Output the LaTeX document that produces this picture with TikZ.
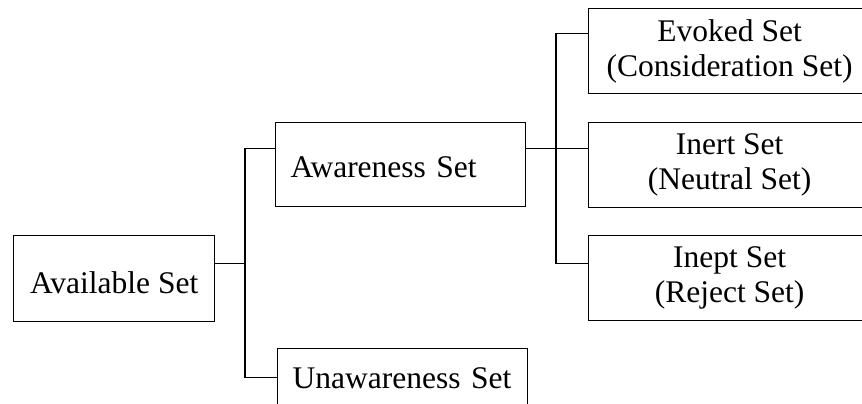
\documentclass[tikz,border=0pt]{standalone}
\usepackage{fontspec}
\setmainfont{Liberation Serif}
\begin{document}
\begin{tikzpicture}[x=1pt,y=-1pt,
  every node/.style={font=\fontsize{31.5}{35}\selectfont},
  box/.style={draw=black,line width=1.3pt,rectangle,inner ysep=0pt},
  rbox/.style={draw=black,line width=1.3pt,rectangle,anchor=north west,minimum width=282pt,minimum height=85pt,align=center,inner sep=0pt},
  conn/.style={draw=black,line width=1.3pt}]
\useasboundingbox (0,0) rectangle (862,404);
\clip (0,0) rectangle (862,404);
\node[box,anchor=north west,minimum width=201pt,text height=58pt,text depth=28pt] (avail) at (13,235) {Available Set};
\node[box,anchor=north west,text width=220pt,align=left,inner xsep=15pt,text height=55pt,text depth=29pt] (aware) at (275,122) {Awareness Set};
\node[box,anchor=north west,text width=220pt,align=left,inner xsep=15pt,text height=40pt,text depth=45pt] (unaware) at (277,348) {Unawareness Set};
\node[rbox] (evoked) at (588,8) {Evoked Set\\(Consideration Set)};
\node[rbox] (inert) at (588,122) {Inert Set\\(Neutral Set)};
\node[rbox] (inept) at (588,235) {Inept Set\\(Reject Set)};
\coordinate (bus1) at (245,0);
\coordinate (bus2) at (556,0);
\coordinate (a1) at ([yshift=15pt]avail.east);
\coordinate (aw1) at ([yshift=16pt]aware.west);
\coordinate (un1) at ([yshift=13.5pt]unaware.west);
\coordinate (aw2) at ([yshift=16pt]aware.east);
\coordinate (ev1) at ([yshift=17.5pt]evoked.west);
\coordinate (ip1) at ([yshift=14.5pt]inept.west);
\draw[conn] (a1) -- (a1 -| bus1);
\draw[conn] (aw1) -- (aw1 -| bus1) -- (un1 -| bus1) -- (un1);
\draw[conn] (aw2) -- (aw2 -| inert.west);
\draw[conn] (ev1) -- (ev1 -| bus2) -- (ip1 -| bus2) -- (ip1);
\end{tikzpicture}
\end{document}
